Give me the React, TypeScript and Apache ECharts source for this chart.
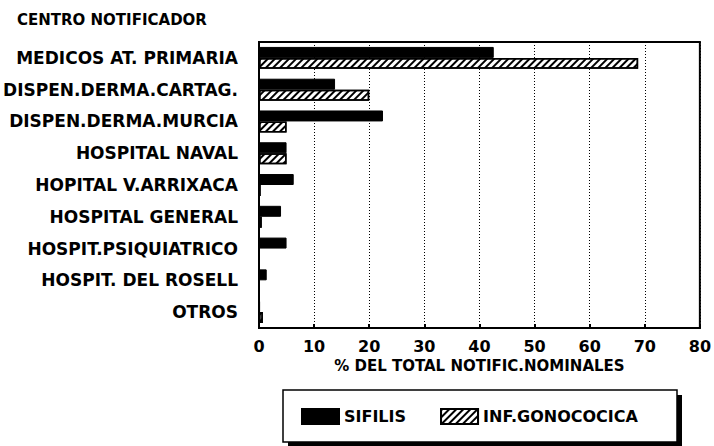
import React, { useEffect, useRef } from "react";
import * as echarts from "echarts";

const categories = [
  "MEDICOS AT. PRIMARIA",
  "DISPEN.DERMA.CARTAG.",
  "DISPEN.DERMA.MURCIA",
  "HOSPITAL NAVAL",
  "HOPITAL V.ARRIXACA",
  "HOSPITAL GENERAL",
  "HOSPIT.PSIQUIATRICO",
  "HOSPIT. DEL ROSELL",
  "OTROS",
];
const sifilis = [42.6, 13.8, 22.5, 5.0, 6.3, 4.0, 5.0, 1.4, 0.2];
const gonococica = [68.8, 20.0, 5.0, 5.0, 0.3, 0.5, 0, 0, 0.7];
const xTicks = [0, 10, 20, 30, 40, 50, 60, 70, 80];

const FONT = "DejaVu Sans";

export default function App() {
  const ref = useRef<HTMLDivElement>(null);
  useEffect(() => {
    if (!ref.current) return;
    const chart = echarts.init(ref.current, null, { renderer: "svg" });
    const hatch = {
      symbol: "rect",
      symbolSize: 1,
      color: "#000",
      backgroundColor: "#fff",
      dashArrayX: [1, 0],
      dashArrayY: [2, 3],
      rotation: -Math.PI / 4,
    };
    chart.setOption({
      animation: false,
      backgroundColor: "#fff",
      textStyle: { fontFamily: FONT, fontWeight: "bold", color: "#000" },
      title: {
        text: "CENTRO NOTIFICADOR",
        left: 17,
        top: 12,
        padding: 0,
        textStyle: { fontFamily: FONT, fontWeight: "bold", fontSize: 15, color: "#000" },
      },
      grid: {
        left: 259,
        right: 13,
        top: 42,
        bottom: 118,
        show: true,
        borderColor: "#000",
        borderWidth: 2,
        backgroundColor: "transparent",
      },
      xAxis: {
        type: "value",
        min: xTicks[0],
        max: xTicks[xTicks.length - 1],
        interval: 10,
        name: "% DEL TOTAL NOTIFIC.NOMINALES",
        nameLocation: "middle",
        nameGap: 28,
        nameTextStyle: { fontFamily: FONT, fontWeight: "bold", fontSize: 15, color: "#000" },
        axisLine: { show: true, lineStyle: { color: "#000", width: 2 } },
        axisTick: { show: true, inside: true, length: 4, lineStyle: { color: "#000", width: 2 } },
        axisLabel: { fontFamily: FONT, fontWeight: "bold", fontSize: 16, color: "#000", margin: 10 },
        splitLine: { show: true, lineStyle: { color: "#000", type: [1, 2], width: 1 } },
      },
      yAxis: {
        type: "category",
        data: categories,
        inverse: true,
        axisLine: { show: true, lineStyle: { color: "#000", width: 2 } },
        axisTick: { show: false },
        axisLabel: { fontFamily: FONT, fontWeight: "bold", fontSize: 17, color: "#000", margin: 21 },
        splitLine: { show: false },
      },
      legend: {
        data: ["SIFILIS", "INF.GONOCOCICA"],
        icon: "rect",
        left: 301,
        top: 408,
        padding: 0,
        itemWidth: 37,
        itemHeight: 15,
        itemGap: 34,
        textStyle: { fontFamily: FONT, fontWeight: "bold", fontSize: 16, color: "#000" },
        z: 10,
      },
      graphic: [
        {
          type: "rect",
          z: 1,
          shape: { x: 288, y: 395, width: 394, height: 52 },
          style: { fill: "#000" },
        },
        {
          type: "rect",
          z: 2,
          shape: { x: 283, y: 390, width: 394, height: 52 },
          style: { fill: "#fff", stroke: "#000", lineWidth: 1.5 },
        },
      ],
      series: [
        {
          name: "SIFILIS",
          type: "bar",
          data: sifilis,
          barGap: "0%",
          barCategoryGap: "31%",
          itemStyle: { color: "#000", borderColor: "#000", borderWidth: 1 },
        },
        {
          name: "INF.GONOCOCICA",
          type: "bar",
          data: gonococica,
          itemStyle: { color: "#fff", borderColor: "#000", borderWidth: 1.5, decal: hatch },
        },
      ],
    });
    return () => chart.dispose();
  }, []);
  return (
    <div
      ref={ref}
      style={{ position: "absolute", left: 0, top: 0, width: 714, height: 446 }}
    />
  );
}
